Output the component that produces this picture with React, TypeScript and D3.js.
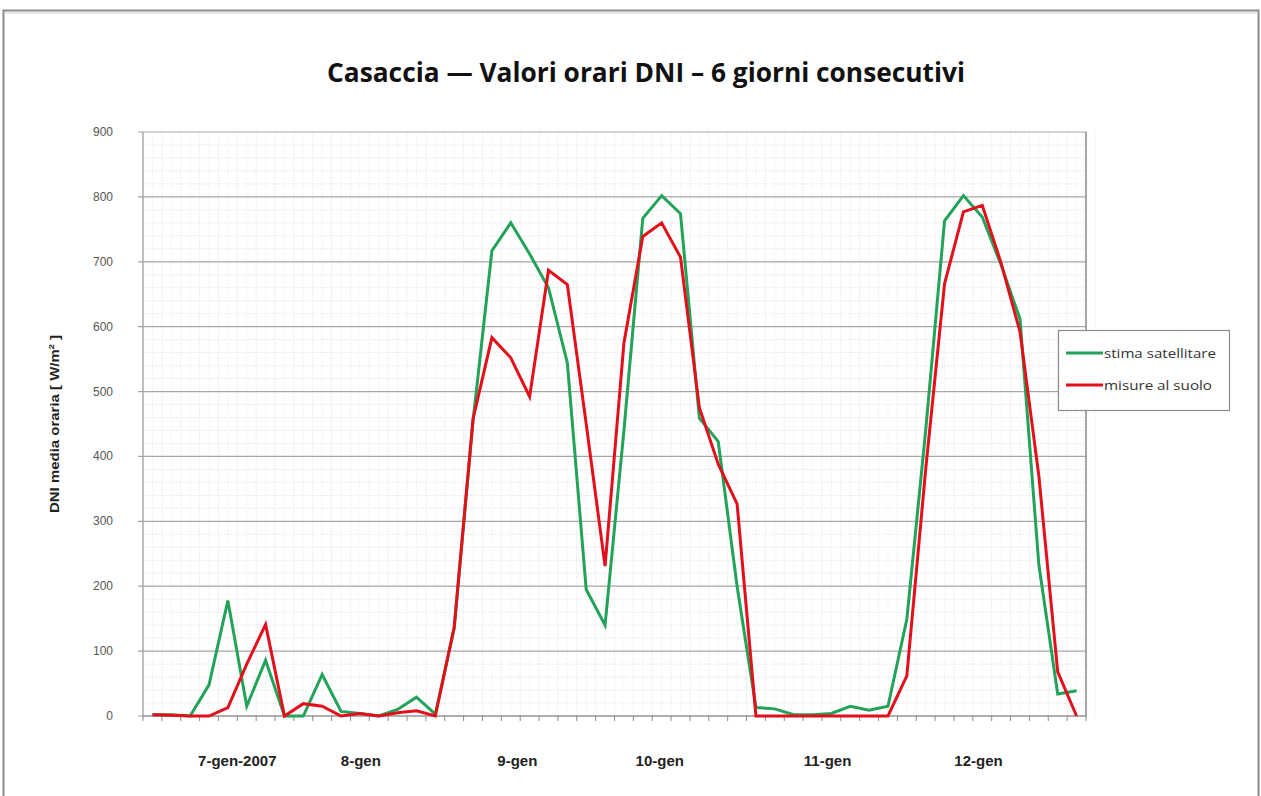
import React from "react";
import * as d3 from "d3";

const categories: number[] = d3.range(50);

const stimaSatellitare: number[] = [
  2, 2, 0, 48, 178, 15, 86, 0, 0, 64,
  7, 4, 0, 10, 29, 3, 135, 455, 717, 760,
  712, 660, 544, 195, 140, 440, 767, 802, 774, 459,
  423, 200, 13, 11, 2, 2, 4, 15, 9, 15,
  149, 440, 763, 802, 769, 695, 612, 233, 34, 39,
];

const misureAlSuolo: number[] = [
  2, 1, 0, 0, 13, 80, 141, 0, 19, 15,
  0, 4, 0, 5, 8, 0, 137, 458, 583, 552,
  492, 687, 665, 450, 231, 575, 739, 760, 707, 475,
  388, 327, 0, 0, 0, 0, 0, 0, 0, 0,
  62, 380, 666, 777, 787, 698, 592, 370, 68, 0,
];

const dayLabels: string[] = ["7-gen-2007", "8-gen", "9-gen", "10-gen", "11-gen", "12-gen"];
const dayLabelPos: number[] = [5.0, 11.55, 19.85, 27.4, 36.3, 44.3];

const yTicks: number[] = [0, 100, 200, 300, 400, 500, 600, 700, 800, 900];

const seriesNames: string[] = ["stima satellitare", "misure al suolo"];

const W = 1261;
const H = 796;
const left = 143;
const right = 1086;
const top = 132;
const bottom = 716;

export default function App() {
  const xLin = d3.scaleLinear().domain([0, categories.length]).range([left, right]);
  const y = d3.scaleLinear().domain([0, 900]).range([bottom, top]);
  const line = d3
    .line<number>()
    .x((_, i) => xLin(i + 0.5))
    .y((d) => y(d));

  const minorY = d3.range(0, 901, 20).filter((v) => v % 100 !== 0);
  const boundaries = d3.range(0, categories.length + 1);

  const green = "#22a359";
  const red = "#e3101c";

  return (
    <svg
      width={W}
      height={H}
      style={{ position: "absolute", left: 0, top: 0, background: "#fff" }}
      fontFamily="'Liberation Sans', Arial, sans-serif"
    >
      <rect x={0} y={0} width={W} height={H} fill="#fff" />
      {/* frame */}
      <rect x={3.5} y={10.5} width={1255} height={800} fill="none" stroke="#8c8c8c" strokeWidth={2} />
      <line x1={4} y1={13} x2={1258} y2={13} stroke="#d0d0d0" strokeWidth={1} />

      {/* title */}
      <text
        x={646}
        y={82}
        textAnchor="middle"
        fontFamily="'Open Sans', 'Noto Sans', sans-serif"
        fontWeight="bold"
        fontSize={26}
        fill="#111"
        textLength={638}
        lengthAdjust="spacingAndGlyphs"
      >
        Casaccia — Valori orari DNI – 6 giorni consecutivi
      </text>

      {/* minor grid */}
      {minorY.map((v) => (
        <line key={"my" + v} x1={left} x2={right} y1={y(v)} y2={y(v)} stroke="#ececec" strokeWidth={1} strokeDasharray="2,1" />
      ))}
      {boundaries.map((b) => (
        <line key={"mx" + b} x1={xLin(b)} x2={xLin(b)} y1={top} y2={bottom} stroke="#ececec" strokeWidth={1} strokeDasharray="2,1" />
      ))}
      {boundaries.map((b) => (
        <line key={"mx2" + b} x1={xLin(b + 0.5)} x2={xLin(b + 0.5)} y1={top} y2={bottom} stroke="#f3f3f3" strokeWidth={1} strokeDasharray="2,1" />
      ))}

      {/* major grid */}
      {yTicks.map((v) => (
        <line key={"gy" + v} x1={left - 5} x2={right} y1={y(v)} y2={y(v)} stroke="#a6a6a6" strokeWidth={1.2} />
      ))}
      {/* axes */}
      <line x1={left} x2={left} y1={top} y2={bottom} stroke="#9a9a9a" strokeWidth={1.2} />
      <line x1={right} x2={right} y1={top} y2={bottom} stroke="#8a8a8a" strokeWidth={1.5} />
      <line x1={left} x2={right} y1={bottom} y2={bottom} stroke="#8a8a8a" strokeWidth={1.2} />
      {boundaries.map((b) => (
        <line key={"tx" + b} x1={xLin(b)} x2={xLin(b)} y1={bottom} y2={bottom + 5} stroke="#8a8a8a" strokeWidth={1} />
      ))}

      {/* y tick labels */}
      {yTicks.map((v) => (
        <text key={"yt" + v} x={113} y={y(v) + 4} textAnchor="end" fontSize={12} fill="#555">
          {v}
        </text>
      ))}

      {/* y axis label */}
      <text
        transform={`translate(59,${(top + bottom) / 2}) rotate(-90)`}
        textAnchor="middle"
        fontSize={13}
        fontWeight="bold"
        fill="#222"
        textLength={178}
        lengthAdjust="spacingAndGlyphs"
      >
        DNI media oraria [ W/m<tspan fontSize={8} dy={-5}>2</tspan><tspan dy={5}> ]</tspan>
      </text>

      {/* x labels */}
      {dayLabels.map((l, i) => (
        <text key={l} x={xLin(dayLabelPos[i])} y={766} textAnchor="middle" fontSize={15} fontWeight="bold" fill="#222">
          {l}
        </text>
      ))}

      {/* series */}
      <path d={line(stimaSatellitare) || ""} fill="none" stroke={green} strokeWidth={3} strokeLinejoin="miter" />
      <path d={line(misureAlSuolo) || ""} fill="none" stroke={red} strokeWidth={3} strokeLinejoin="miter" />

      {/* legend */}
      <rect x={1058.5} y={330.5} width={171} height={80} fill="#fff" stroke="#8c8c8c" strokeWidth={1.2} />
      {seriesNames.map((n, i) => (
        <g key={n}>
          <line x1={1066} x2={1103} y1={353 + i * 32} y2={353 + i * 32} stroke={i === 0 ? green : red} strokeWidth={3} />
          <text x={1104} y={358 + i * 32} fontSize={13} fill="#333" fontFamily="'Open Sans', sans-serif" textLength={i === 0 ? 112 : 108} lengthAdjust="spacingAndGlyphs">
            {n}
          </text>
        </g>
      ))}
    </svg>
  );
}
